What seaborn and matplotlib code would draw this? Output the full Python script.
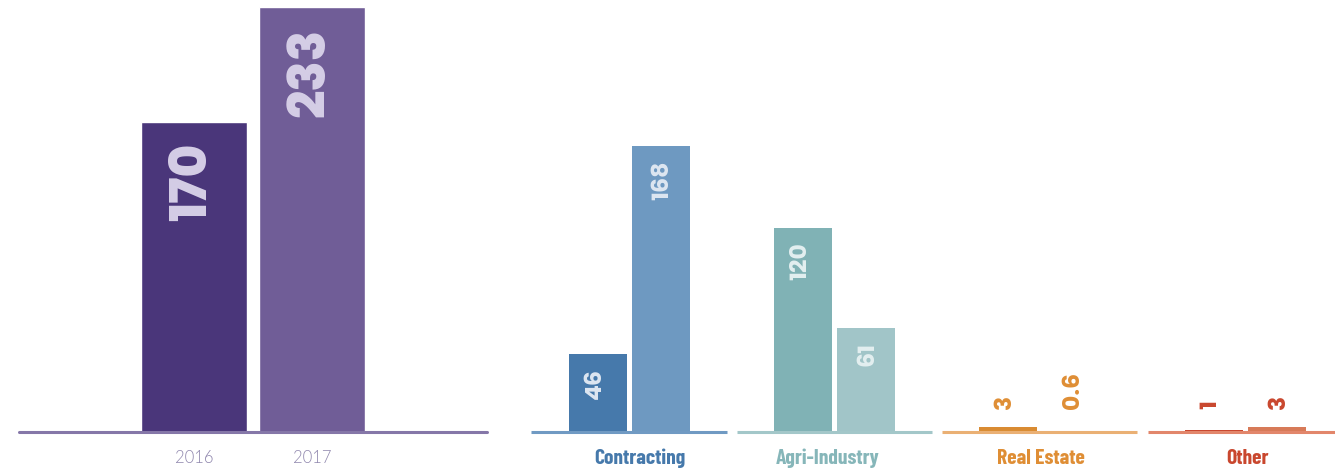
import matplotlib
matplotlib.use("Agg")
import matplotlib.pyplot as plt
import seaborn as sns
import pandas as pd

# Totals by year
years = ["2016", "2017"]
totals = [170, 233]

# Breakdown by sector (2016, 2017)
sectors = ["Contracting", "Agri-Industry", "Real Estate", "Other"]
values_2016 = [46, 120, 3, 1]
values_2017 = [168, 61, 0.6, 3]
value_labels_2016 = ["46", "120", "3", "1"]
value_labels_2017 = ["168", "61", "0.6", "3"]

# Styling
total_colors = ["#4a367a", "#705d97"]
total_label_color = "#d5cee6"
year_label_color = "#8f86ad"
total_line_color = "#8577a8"

sector_colors = {
    "Contracting": ("#4679ab", "#6e99c1"),
    "Agri-Industry": ("#80b2b5", "#a1c5c8"),
    "Real Estate": ("#d98b32", "#e4a866"),
    "Other": ("#c9472e", "#d77a58"),
}
sector_line_colors = ["#709ac3", "#a3c7c9", "#eab074", "#e2866b"]
sector_text_colors = ["#4679ab", "#86b6b9", "#df8e35", "#c9472e"]
inner_label_colors = ["#dde6f1", "#e3eff0", "#df8e35", "#c9472e"]
sector_label_shift = [8, -5, 1, 1.5]  # horizontal nudge of sector names, points

NUM_FONT = ["Poppins", "Lato", "DejaVu Sans"]
YEAR_FONT = ["Lato", "DejaVu Sans"]
CAT_FONT = ["Barlow Condensed", "Roboto", "DejaVu Sans"]

sns.set_theme(style="white")
plt.rcParams["font.family"] = ["Lato", "DejaVu Sans"]

W, H = 1335, 473
fig = plt.figure(figsize=(W / 100, H / 100), dpi=100)


def px_axes(x0, x1, y_top, y_base):
    return fig.add_axes([x0 / W, (H - y_base) / H, (x1 - x0) / W, (y_base - y_top) / H])


# ---- Left panel: totals ----
axL = px_axes(19, 487, 0, 432)
df_tot = pd.DataFrame({"year": years, "value": totals})
sns.barplot(data=df_tot, x="year", y="value", hue="year", palette=total_colors,
            width=0.898, saturation=1, legend=False, ax=axL)
axL.set_xlim(-1.483, 2.483)
axL.set_ylim(0, 432 / 1.825)
axL.axhline(0, color=total_line_color, lw=2.2, zorder=5, clip_on=False)
for i, v in enumerate(totals):
    axL.annotate(str(v), xy=(i, v), xytext=(0, -15), textcoords="offset points",
                 rotation=90, ha="center", va="top", fontsize=36, fontweight=800,
                 family=NUM_FONT, color=total_label_color)
    axL.annotate(years[i], xy=(i, 0), xytext=(0, -19), textcoords="offset points",
                 ha="center", va="center", fontsize=12, fontweight=300,
                 family=YEAR_FONT, color=year_label_color)

# ---- Right panel: by sector ----
axR = px_axes(532, 1335, 0, 432)
df_sec = pd.DataFrame({
    "sector": sectors * 2,
    "year": ["2016"] * len(sectors) + ["2017"] * len(sectors),
    "value": values_2016 + values_2017,
})
sns.barplot(data=df_sec, x="sector", y="value", hue="year", order=sectors,
            hue_order=years, width=0.614, gap=0.08, saturation=1, legend=False, ax=axR)
axR.set_xlim(-0.4725, 3.438)
axR.set_ylim(0, 432 / 1.7)

bars = sorted(axR.patches, key=lambda p: p.get_x())
flat_colors = [c for s in sectors for c in sector_colors[s]]
for p, c in zip(bars, flat_colors):
    p.set_facecolor(c)
    p.set_edgecolor("none")

for i, s in enumerate(sectors):
    axR.hlines(0, i - 0.475, i + 0.475, color=sector_line_colors[i], lw=2.2,
               zorder=5, clip_on=False)
    axR.annotate(s, xy=(i, 0), xytext=(sector_label_shift[i], -19),
                 textcoords="offset points", ha="center", va="center",
                 fontsize=15.5, fontweight="bold", family=CAT_FONT,
                 color=sector_text_colors[i])

offsets = [-0.1656, 0.1656]
for i, s in enumerate(sectors):
    for j, (vals, labs) in enumerate([(values_2016, value_labels_2016),
                                      (values_2017, value_labels_2017)]):
        v = vals[i]
        x = i + offsets[j]
        if v >= 20:
            axR.annotate(labs[i], xy=(x, v), xytext=(0, -10), textcoords="offset points",
                         rotation=90, ha="center", va="top", fontsize=17,
                         fontweight=700, family=NUM_FONT, color=inner_label_colors[i])
        else:
            axR.annotate(labs[i], xy=(x, 0), xytext=(0, 16.5), textcoords="offset points",
                         rotation=90, ha="center", va="bottom", fontsize=17,
                         fontweight=700, family=NUM_FONT, color=inner_label_colors[i])

for ax in (axL, axR):
    ax.set_xlabel("")
    ax.set_ylabel("")
    ax.set_xticks([])
    ax.set_yticks([])
    for sp in ax.spines.values():
        sp.set_visible(False)
    ax.patch.set_alpha(0)

fig.savefig("out.png", dpi=100)
